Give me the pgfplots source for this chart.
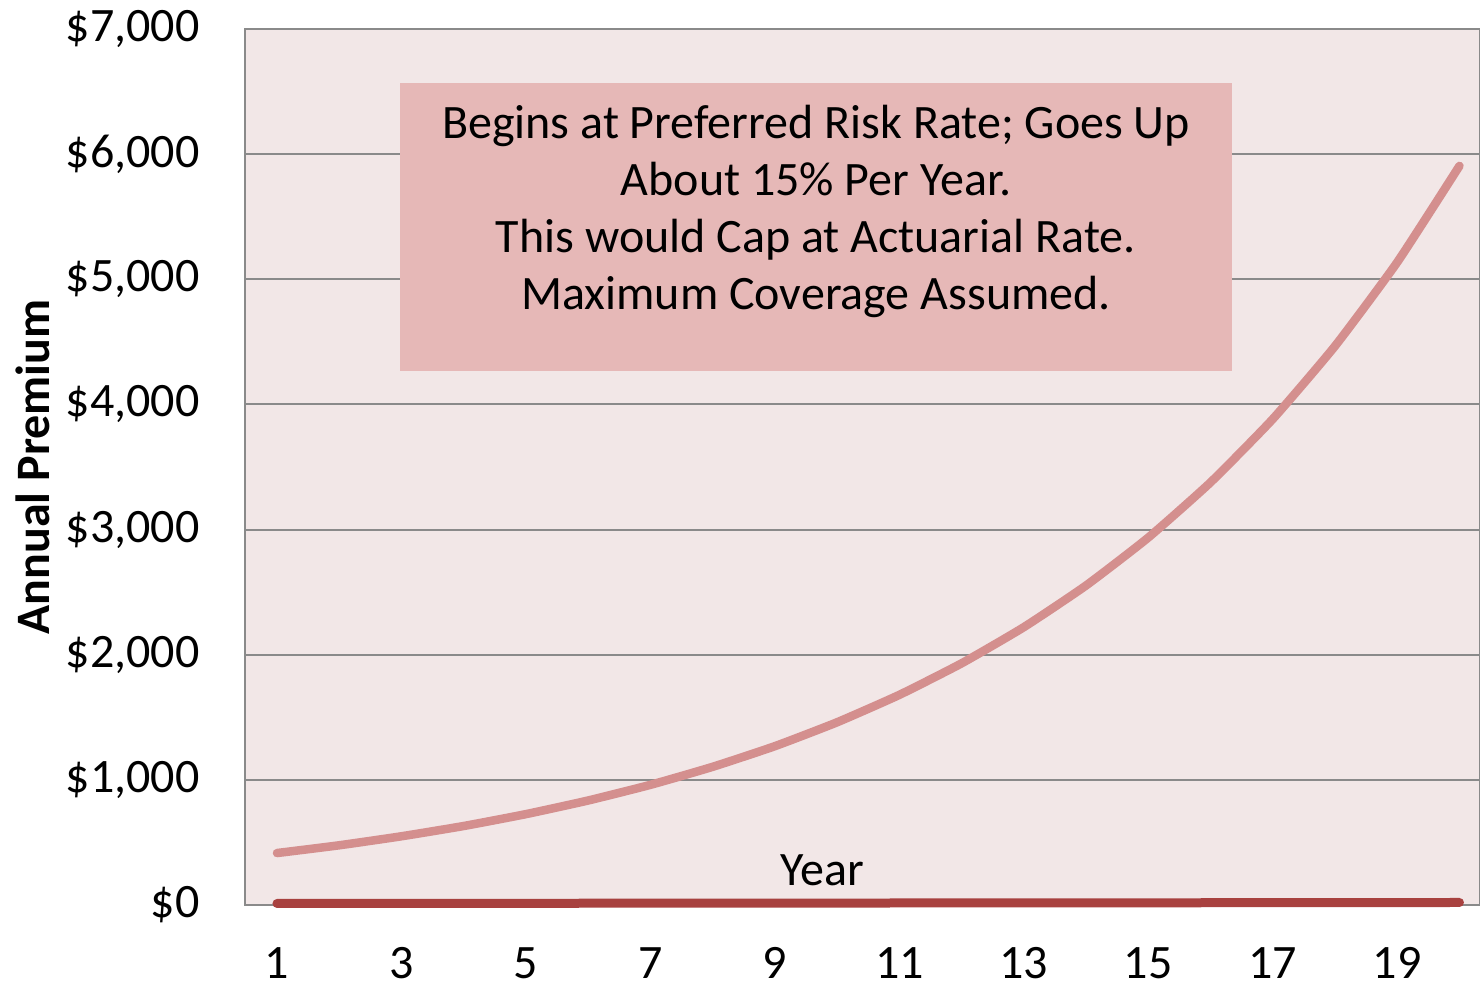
\documentclass[border=0pt]{standalone}
\usepackage{pgfplots}
\pgfplotsset{compat=1.18}
\usepackage{fontspec}
\setmainfont{Carlito}
\definecolor{bgpink}{HTML}{F2E7E7}
\definecolor{boxpink}{HTML}{E6B8B7}
\definecolor{lightred}{HTML}{D48F8E}
\definecolor{darkred}{HTML}{A8413F}
\definecolor{gridgray}{HTML}{8A8A8A}
\begin{document}
\begin{tikzpicture}
\begin{axis}[
  name=ax,
  scale only axis,
  width=617.5pt, height=438pt,
  xmin=0.486, xmax=20.33,
  ymin=0, ymax=7000,
  axis background/.style={fill=bgpink},
  axis line style={gridgray, line width=1pt},
  ymajorgrids,
  grid style={gridgray, line width=1pt},
  major tick length=0pt,
  xtick={1,3,5,7,9,11,13,15,17,19},
  xticklabels={1,3,5,7,9,11,13,15,17,19},
  ytick={0,1000,2000,3000,4000,5000,6000,7000},
  yticklabels={{\$0},{\$1,000},{\$2,000},{\$3,000},{\$4,000},{\$5,000},{\$6,000},{\$7,000}},
  /pgf/number format/assume math mode=true,
  tick label style={font=\fontsize{24pt}{28pt}\selectfont},
  yticklabel style={anchor=east, inner sep=0pt, xshift=-22.5pt},
  xticklabel style={anchor=north, inner sep=0pt, yshift=-21pt},
  clip=false,
]
\addplot[lightred, line width=4.25pt, line cap=round, line join=round, smooth, tension=0.3] coordinates {
(1,415) (2,477) (3,549) (4,631) (5,726) (6,835) (7,960) (8,1104) (9,1269) (10,1460)
(11,1679) (12,1931) (13,2220) (14,2553) (15,2936) (16,3377) (17,3883) (18,4466) (19,5136) (20,5906)
};
\addplot[darkred, line width=4.5pt, line cap=round] coordinates {
(1,12) (2,12) (3,13) (4,13) (5,13) (6,14) (7,14) (8,14) (9,15) (10,15)
(11,16) (12,16) (13,16) (14,17) (15,17) (16,18) (17,18) (18,19) (19,19) (20,20)
};
\fill[boxpink] (axis cs:2.977,4264) rectangle (axis cs:16.35,6568);
\node[align=center, font=\fontsize{24pt}{28.5pt}\selectfont] at (axis cs:9.66,5544)
  {Begins at Preferred Risk Rate; Goes Up\\About 15\% Per Year.\\This would Cap at Actuarial Rate.\\Maximum Coverage Assumed.};
\node[font=\fontsize{24pt}{28pt}\selectfont] at (axis cs:9.76,280) {Year};
\coordinate (bl) at (rel axis cs:0,0);
\coordinate (tr) at (rel axis cs:1,1);
\coordinate (ymid) at (rel axis cs:0,0.5);
\end{axis}
\node[rotate=90, anchor=center, font=\fontsize{24pt}{28pt}\selectfont\bfseries] at ([xshift=-106pt]ymid) {Annual Premium};
\pgfresetboundingbox
\path[use as bounding box] ([xshift=-122.5pt,yshift=-41pt]bl) rectangle ([yshift=14.5pt]tr);
\end{tikzpicture}
\end{document}
